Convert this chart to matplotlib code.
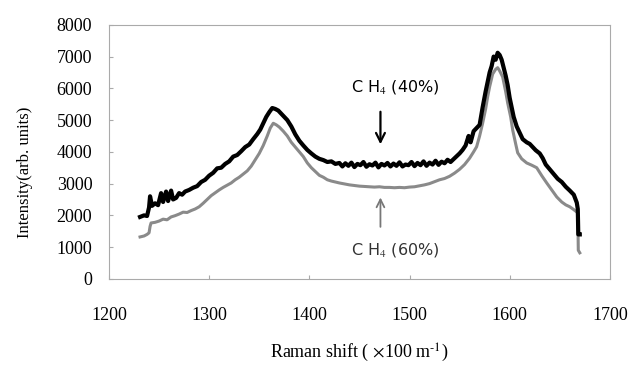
import matplotlib
matplotlib.use("Agg")
import matplotlib.pyplot as plt

# Raman spectra (x in 100 m^-1, y in arb. units)
x_40 = [1231, 1235, 1238, 1240, 1241, 1243, 1246, 1249, 1252, 1254, 1257, 1259,
        1262, 1264, 1267, 1270, 1273, 1276, 1280, 1284, 1288, 1292, 1296, 1300,
        1304, 1308, 1312, 1316, 1320, 1324, 1328, 1332, 1336, 1340, 1344, 1348,
        1351, 1354, 1357, 1360, 1363, 1366, 1369, 1372, 1375, 1378, 1382, 1386,
        1390, 1394, 1398, 1402, 1406, 1410, 1414, 1418, 1422, 1426, 1430, 1433,
        1436, 1439, 1442, 1445, 1448, 1451, 1454, 1457, 1460, 1463, 1466, 1469,
        1472, 1475, 1478, 1481, 1484, 1487, 1490, 1493, 1496, 1499, 1502, 1505,
        1508, 1511, 1514, 1517, 1520, 1523, 1526, 1529, 1532, 1535, 1538, 1541,
        1545, 1550, 1553,
        1556, 1559, 1561, 1564, 1567, 1570, 1573, 1576, 1578, 1580, 1582, 1584,
        1586, 1588, 1590, 1592, 1594, 1596, 1598, 1600, 1602, 1604, 1607, 1610,
        1613, 1617, 1620, 1623, 1626, 1630, 1633, 1636, 1640, 1644, 1648, 1652,
        1656, 1660, 1664, 1667, 1668, 1668.5, 1670]
y_40 = [1950, 2000, 1980, 2250, 2600, 2300, 2380, 2320, 2700, 2420, 2750, 2450,
        2780, 2500, 2550, 2700, 2650, 2750, 2800, 2870, 2920, 3050, 3120, 3250,
        3340, 3480, 3500, 3620, 3700, 3850, 3900, 4020, 4150, 4230, 4400, 4560,
        4700, 4900, 5100, 5250, 5380, 5350, 5300, 5200, 5100, 5000, 4800, 4550,
        4350, 4200, 4060, 3950, 3850, 3780, 3740, 3680, 3700, 3620, 3650, 3540,
        3640, 3560, 3660, 3520, 3620, 3580, 3680, 3530, 3610, 3570, 3660, 3510,
        3620, 3570, 3650, 3540, 3630, 3560, 3670, 3540, 3600, 3580, 3680, 3550,
        3650, 3580, 3700, 3560, 3660, 3600, 3720, 3590, 3690, 3640, 3750, 3680,
        3800, 3950, 4060,
        4200, 4500, 4300, 4650, 4750, 4850, 5400, 5900, 6200, 6500, 6700, 7000,
        6900, 7120, 7050, 6900, 6650, 6400, 6100, 5700, 5400, 5100, 4800, 4600,
        4400, 4300, 4250, 4150, 4050, 3950, 3800, 3600, 3450, 3300, 3150, 3050,
        2900, 2780, 2650, 2400, 2200, 1400, 1400]

x_60 = [1231, 1235, 1238, 1240, 1241, 1242, 1246, 1250, 1254, 1258, 1262, 1266,
        1270, 1274, 1278, 1282, 1286, 1290, 1294, 1298, 1302, 1306, 1310, 1314,
        1318, 1322, 1326, 1330, 1334, 1338, 1342, 1346, 1350, 1354, 1358, 1361,
        1364, 1367, 1370, 1374, 1378, 1382, 1386, 1390, 1394, 1398, 1402, 1406,
        1410, 1414, 1418, 1422, 1426, 1430, 1435, 1440, 1445, 1450, 1455, 1460,
        1465, 1470, 1475, 1480, 1485, 1490, 1495, 1500, 1505, 1510, 1515, 1520,
        1525, 1530, 1535, 1540, 1545, 1550, 1555, 1560, 1564, 1567, 1570, 1573,
        1576, 1578, 1580, 1583, 1586, 1588, 1590, 1593, 1596, 1598, 1601, 1603,
        1606, 1608, 1612, 1617, 1622, 1627, 1632, 1637, 1642, 1647, 1652, 1656,
        1660, 1664, 1668, 1668.5, 1670]
y_60 = [1320, 1350, 1400, 1450, 1650, 1760, 1780, 1820, 1880, 1860, 1950, 1990,
        2040, 2100, 2090, 2150, 2200, 2270, 2380, 2500, 2620, 2710, 2800, 2880,
        2950, 3020, 3120, 3200, 3300, 3400, 3550, 3750, 3950, 4200, 4500, 4750,
        4900, 4850, 4780, 4650, 4500, 4300, 4150, 4000, 3850, 3650, 3500, 3380,
        3260, 3200, 3120, 3080, 3050, 3020, 2990, 2960, 2940, 2920, 2910, 2900,
        2890, 2900, 2880, 2880, 2870, 2880, 2870, 2890, 2900, 2930, 2960, 3000,
        3060, 3120, 3160, 3230, 3330, 3450, 3600, 3800, 4000, 4160, 4500, 4900,
        5350, 5730, 6050, 6450, 6600, 6650, 6550, 6360, 5900, 5540, 5100, 4690,
        4250, 3970, 3780, 3650, 3580, 3500, 3250, 3020, 2800, 2580, 2420, 2330,
        2270, 2180, 2080, 900, 820]

x_ticks = [1200, 1300, 1400, 1500, 1600, 1700]
y_ticks = [0, 1000, 2000, 3000, 4000, 5000, 6000, 7000, 8000]

plt.rcParams['font.family'] = 'Liberation Serif'
plt.rcParams['mathtext.fontset'] = 'stix'

fig = plt.figure(figsize=(6.3, 3.65), dpi=100)
ax = fig.add_axes([0.173, 0.236, 0.795, 0.696])

ax.plot(x_60, y_60, color='#8a8a8a', lw=2.2)
ax.plot(x_40, y_40, color='black', lw=3.0)

ax.set_xlim(1200, 1700)
ax.set_ylim(0, 8000)
ax.set_xticks(x_ticks)
ax.set_yticks(y_ticks)
ax.tick_params(direction='in', length=3, width=0.8, color='#aaaaaa',
               labelsize=13)
ax.tick_params(axis='x', pad=20)
ax.tick_params(axis='y', pad=12)
for s in ax.spines.values():
    s.set_color('#aaaaaa')
    s.set_linewidth(0.8)

ax.set_xlabel('Raman shift ( $\\times$100 m$^{\\text{-1}}$)', fontsize=13,
              labelpad=13)
ax.set_ylabel('Intensity(arb. units)', fontsize=12)
ax.yaxis.set_label_coords(-0.152, 0.42)

# Labels and arrows for the two spectra
ax.text(1486, 6050, 'C H$_4$ (40%)', family='DejaVu Sans', fontsize=11.5,
        ha='center', va='center')
ax.annotate('', xy=(1471, 4150), xytext=(1471, 5350),
            arrowprops=dict(arrowstyle='->', color='black', lw=1.6,
                            mutation_scale=16))
ax.text(1486, 920, 'C H$_4$ (60%)', family='DejaVu Sans', fontsize=11.5,
        ha='center', va='center', color='#333333')
ax.annotate('', xy=(1471, 2650), xytext=(1471, 1550),
            arrowprops=dict(arrowstyle='->', color='#777777', lw=1.3,
                            mutation_scale=14))

fig.savefig('out.png', dpi=100)
